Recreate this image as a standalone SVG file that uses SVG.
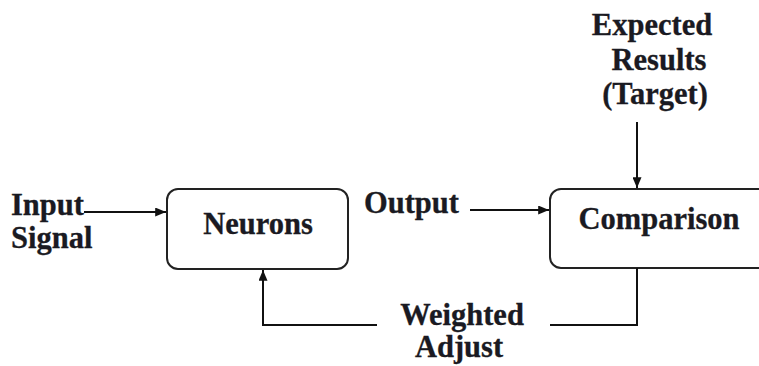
<svg xmlns="http://www.w3.org/2000/svg" width="759" height="366" viewBox="0 0 759 366">
  <defs>
    <marker id="arrow" viewBox="0 0 12 10" refX="12" refY="5" markerWidth="11" markerHeight="9" markerUnits="userSpaceOnUse" orient="auto">
      <path d="M0,0 L12,5 L0,10 Z" fill="#111"/>
    </marker>
    <style>
      .box { fill: #ffffff; stroke: #222; stroke-width: 2; }
      .lbl { font-family: "Liberation Serif", "Times New Roman", serif; font-weight: bold; font-size: 30.5px; fill: #1a1a22; stroke: #1a1a22; stroke-width: 0.3; }
      .wire { fill: none; stroke: #111; stroke-width: 2; }
    </style>
  </defs>
  <rect width="759" height="366" fill="#ffffff"/>

  <g id="neurons">
    <rect class="box" x="167" y="189" width="181" height="80" rx="11"/>
    <text class="lbl" x="258" y="234" text-anchor="middle">Neurons</text>
  </g>

  <g id="comparison">
    <rect class="box" x="550" y="189" width="230" height="79" rx="11"/>
    <text class="lbl" x="659" y="229" text-anchor="middle">Comparison</text>
  </g>

  <g id="input-signal">
    <text class="lbl" x="11" y="215">Input</text>
    <text class="lbl" x="11" y="248">Signal</text>
  </g>

  <g id="output-label">
    <text class="lbl" x="364" y="213">Output</text>
  </g>

  <g id="target">
    <text class="lbl" x="652" y="35" text-anchor="middle">Expected</text>
    <text class="lbl" x="659" y="70" text-anchor="middle">Results</text>
    <text class="lbl" x="655" y="104" text-anchor="middle">(Target)</text>
  </g>

  <g id="weighted-adjust">
    <text class="lbl" x="462" y="325" text-anchor="middle">Weighted</text>
    <text class="lbl" x="459" y="357" text-anchor="middle">Adjust</text>
  </g>

  <g id="connectors">
    <line class="wire" x1="84" y1="212" x2="166" y2="212" marker-end="url(#arrow)"/>
    <line class="wire" x1="470" y1="210" x2="549" y2="210" marker-end="url(#arrow)"/>
    <line class="wire" x1="637" y1="122" x2="637" y2="188" marker-end="url(#arrow)"/>
    <polyline class="wire" points="637,268 637,325 550,325"/>
    <polyline class="wire" points="377,325 263,325 263,270" marker-end="url(#arrow)"/>
  </g>
</svg>
